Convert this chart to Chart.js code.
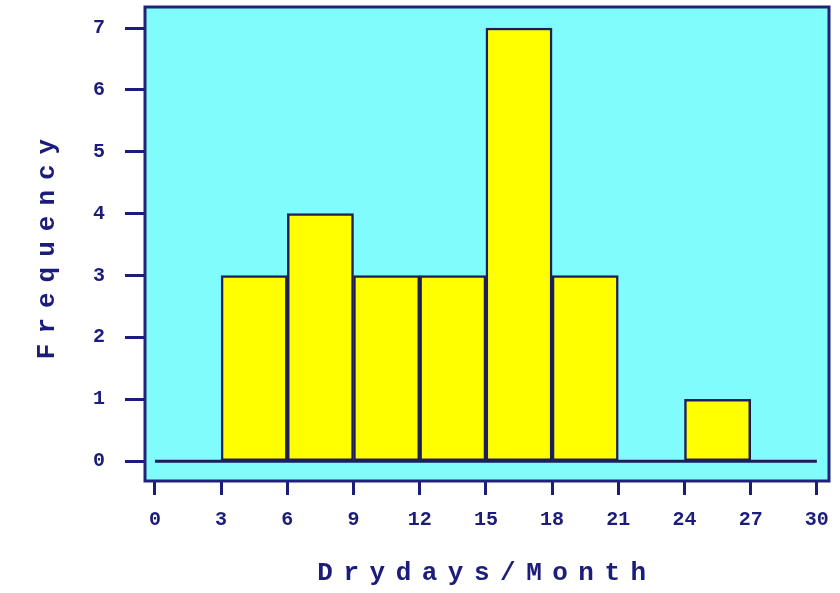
<!DOCTYPE html>
<html>
<head>
<meta charset="utf-8">
<script src="https://cdn.jsdelivr.net/npm/chart.js@4/dist/chart.umd.min.js"></script>
<style>
  html, body { margin: 0; padding: 0; background: #ffffff; }
  #wrap { width: 840px; height: 593px; }
</style>
</head>
<body>
<div id="wrap"><canvas id="c" width="840" height="593"></canvas></div>
<script>
// ---- data ----
const binEdges = [0, 3, 6, 9, 12, 15, 18, 21, 24, 27, 30];
const frequencies = [0, 3, 4, 3, 3, 7, 3, 0, 1, 0];
const xTickLabels = [0, 3, 6, 9, 12, 15, 18, 21, 24, 27, 30];
const yTickLabels = [0, 1, 2, 3, 4, 5, 6, 7];
const xTitle = 'Drydays/Month';
const yTitle = 'Frequency';

// ---- styles ----
const NAVY = '#1c1c7a';
const FRAME = '#22227a';
const BAR_FILL = '#ffff00';
const BAR_EDGE = '#1e1e5a';
const PLOT_BG = '#80fcfc';
const FONT = '"Liberation Mono", "DejaVu Sans Mono", monospace';
const TITLE_SPACING = { x: 10.5, y: 10 };

// custom linear scale that draws its title with letter spacing
const Linear = Chart.registry.getScale('linear');
class SpacedLinear extends Linear {
  drawTitle() {
    const ctx = this.ctx;
    ctx.save();
    try { ctx.letterSpacing = (TITLE_SPACING[this.id] || 0) + 'px'; } catch (e) {}
    super.drawTitle();
    ctx.restore();
  }
}
SpacedLinear.id = 'spacedLinear';
SpacedLinear.defaults = Linear.defaults;
Chart.register(SpacedLinear);

const barData = frequencies.map((f, i) => ({ x: (binEdges[i] + binEdges[i + 1]) / 2, y: f }));
const baseline = [
  { x: binEdges[0], y: 0 },
  { x: binEdges[binEdges.length - 1], y: 0 }
];

const plotFrame = {
  id: 'plotFrame',
  beforeDraw(chart) {
    const { ctx, chartArea: a } = chart;
    ctx.save();
    ctx.fillStyle = PLOT_BG;
    ctx.fillRect(a.left, a.top, a.right - a.left, a.bottom - a.top);
    ctx.restore();
  },
  afterDraw(chart) {
    const { ctx, chartArea: a } = chart;
    ctx.save();
    ctx.strokeStyle = FRAME;
    ctx.lineWidth = 3;
    ctx.strokeRect(a.left, a.top, a.right - a.left, a.bottom - a.top);
    ctx.restore();
  }
};

new Chart(document.getElementById('c'), {
  type: 'bar',
  data: {
    datasets: [
      {
        type: 'line',
        data: baseline,
        borderColor: BAR_EDGE,
        borderWidth: 3,
        pointRadius: 0,
        fill: false
      },
      {
        type: 'bar',
        data: barData,
        backgroundColor: BAR_FILL,
        borderColor: BAR_EDGE,
        borderWidth: 2.5,
        borderSkipped: false,
        barPercentage: 1,
        categoryPercentage: 1
      }
    ]
  },
  options: {
    responsive: false,
    animation: false,
    devicePixelRatio: 1,
    layout: { padding: { top: 7, right: 11, left: 0, bottom: 0 } },
    plugins: { legend: { display: false }, tooltip: { enabled: false } },
    scales: {
      x: {
        type: 'spacedLinear',
        min: -0.45,
        max: 30.55,
        offset: false,
        afterBuildTicks: s => { s.ticks = xTickLabels.map(v => ({ value: v })); },
        afterFit: s => { s.height = 112; s.paddingLeft = 0; s.paddingRight = 0; },
        grid: {
          offset: false,
          drawOnChartArea: false,
          drawTicks: true,
          tickLength: 14,
          tickWidth: 3,
          tickColor: NAVY
        },
        border: { display: false },
        ticks: {
          color: NAVY,
          padding: 13,
          maxRotation: 0,
          minRotation: 0,
          autoSkip: false,
          font: { family: FONT, size: 20, weight: 'bold' }
        },
        title: {
          display: true,
          text: xTitle,
          color: NAVY,
          padding: { top: 0, bottom: 4 },
          font: { family: FONT, size: 26, weight: 'bold' }
        }
      },
      y: {
        type: 'spacedLinear',
        min: -0.32,
        max: 7.34,
        afterBuildTicks: s => { s.ticks = yTickLabels.map(v => ({ value: v })); },
        afterFit: s => { s.width = 145; s.paddingTop = 0; s.paddingBottom = 0; },
        grid: {
          drawOnChartArea: false,
          drawTicks: true,
          tickLength: 20,
          tickWidth: 3,
          tickColor: NAVY
        },
        border: { display: false },
        ticks: {
          color: NAVY,
          padding: 20,
          autoSkip: false,
          font: { family: FONT, size: 20, weight: 'bold' }
        },
        title: {
          display: true,
          text: yTitle,
          color: NAVY,
          padding: { top: 32, bottom: 0 },
          font: { family: FONT, size: 26, weight: 'bold' }
        }
      }
    }
  },
  plugins: [plotFrame]
});
</script>
</body>
</html>
